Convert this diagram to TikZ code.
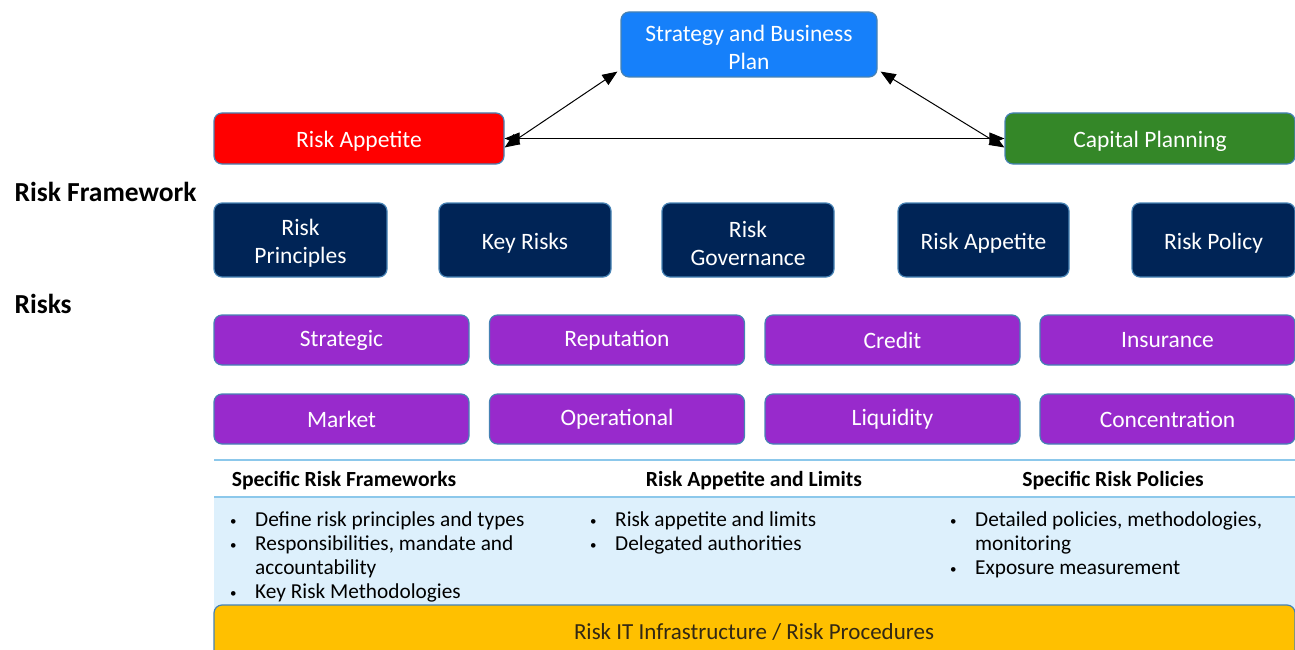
\documentclass[tikz,border=0pt]{standalone}
\usepackage{fontspec}
\setmainfont{Carlito}
\usetikzlibrary{arrows.meta}
\definecolor{sbp}{RGB}{22,128,250}
\definecolor{rared}{RGB}{255,0,0}
\definecolor{capgreen}{RGB}{52,135,40}
\definecolor{navy}{RGB}{0,36,86}
\definecolor{purp}{RGB}{152,42,204}
\definecolor{edgeblue}{RGB}{70,130,180}
\definecolor{lightfill}{RGB}{221,240,252}
\definecolor{lineblue}{RGB}{140,200,235}
\definecolor{gold}{RGB}{255,192,0}
\newcommand\bul{\makebox[26pt][l]{\hspace*{1pt}\raisebox{1pt}{\fontsize{13}{13}\selectfont\textbullet}}}
\newcommand\lowr[1]{\raisebox{-3pt}[\height][\depth]{#1}}
\tikzset{
  rbox/.style={draw=edgeblue, line width=1.2pt, rounded corners=8pt, text=white, align=center, inner sep=0pt, font=\fontsize{23.5}{28}\selectfont},
  navybox/.style={rbox, fill=navy, minimum height=74pt},
  purpbox/.style={rbox, fill=purp, minimum width=255pt, minimum height=50pt},
  sidelabel/.style={anchor=base west, font=\bfseries\fontsize{27.5}{30}\selectfont},
  headtext/.style={anchor=base, font=\bfseries\fontsize{21.6}{24}\selectfont},
  listline/.style={anchor=base west, inner sep=0pt, font=\fontsize{21.3}{24}\selectfont},
  tipend/.tip={Triangle[length=15pt,width=12pt]},
  biarrow/.style={line width=1pt, tipend-tipend}
}
\begin{document}
\begin{tikzpicture}[x=1pt,y=-1pt]
\useasboundingbox (0,0) rectangle (1295,650);
% top boxes
\node[rbox, fill=sbp, minimum width=256pt, minimum height=65pt] (sbp) at (749,44.5) {\lowr{Strategy and Business}\\\lowr{Plan}};
\node[rbox, fill=rared, minimum width=290pt, minimum height=51pt] (ra) at (359,138.5) {\lowr{Risk Appetite}};
\node[rbox, fill=capgreen, minimum width=290pt, minimum height=51pt] (cp) at (1150,138.5) {\lowr{Capital Planning}};
\draw[biarrow] ([yshift=-9pt]ra.east) -- ([shift={(-3pt,6pt)}]sbp.south west);
\draw[biarrow] ([shift={(3pt,6pt)}]sbp.south east) -- ([yshift=-9pt]cp.west);
\draw[biarrow] (ra.east) -- (cp.west);
% side labels
\node[sidelabel] (lrf) at (11,201) {Risk Framework};
\node[sidelabel] (lrk) at (11,313) {Risks};
% framework boxes
\node[navybox, minimum width=173pt] (f1) at (300.5,240) {\lowr{Risk}\\\lowr{Principles}};
\node[navybox, minimum width=172pt] (f2) at (525,240) {\lowr{Key Risks}};
\node[navybox, minimum width=172pt] (f3) at (748,240) {\lowr{Risk}\\\lowr{Governance}};
\node[navybox, minimum width=171pt] (f4) at (983.5,240) {\lowr{Risk Appetite}};
\node[navybox, minimum width=163pt] (f5) at (1213.5,240) {\lowr{Risk Policy}};
% risk boxes
\node[purpbox] (r1) at (341.5,340) {Strategic};
\node[purpbox] (r2) at (617,340) {Reputation};
\node[purpbox] (r3) at (892.5,340) {Credit};
\node[purpbox] (r4) at (1167.5,340) {Insurance};
\node[purpbox] (r5) at (341.5,419) {Market};
\node[purpbox] (r6) at (617,419) {Operational};
\node[purpbox] (r7) at (892.5,419) {Liquidity};
\node[purpbox] (r8) at (1167.5,419) {Concentration};
% lower panel
\fill[lightfill] (214,497) rectangle (1295,612);
\draw[lineblue, line width=1.5pt] (214,460) -- (1295,460);
\draw[lineblue, line width=1.5pt] (214,497) -- (1295,497);
\node[headtext] (h1) at (344,486) {Specific Risk Frameworks};
\node[headtext] (h2) at (754,486) {Risk Appetite and Limits};
\node[headtext] (h3) at (1113,486) {Specific Risk Policies};
\node[listline] (a1) at (229,526) {\bul Define risk principles and types};
\node[listline] (a2) at (229,550) {\bul Responsibilities, mandate and};
\node[listline] (a3) at (255,574) {accountability};
\node[listline] (a4) at (229,598) {\bul Key Risk Methodologies};
\node[listline] (b1) at (589,526) {\bul Risk appetite and limits};
\node[listline] (b2) at (589,550) {\bul Delegated authorities};
\node[listline] (c1) at (949,526) {\bul Detailed policies, methodologies,};
\node[listline] (c2) at (975,550) {monitoring};
\node[listline] (c3) at (949,574) {\bul Exposure measurement};
% bottom bar
\draw[draw=edgeblue, line width=1.2pt, fill=gold, rounded corners=8pt] (214,660) -- (214,605) -- (1295,605) -- (1295,660);
\node[anchor=base, font=\fontsize{23}{27}\selectfont, text={rgb,255:red,50;green,40;blue,20}] (it) at (754,639) {Risk IT Infrastructure / Risk Procedures};
\end{tikzpicture}
\end{document}
